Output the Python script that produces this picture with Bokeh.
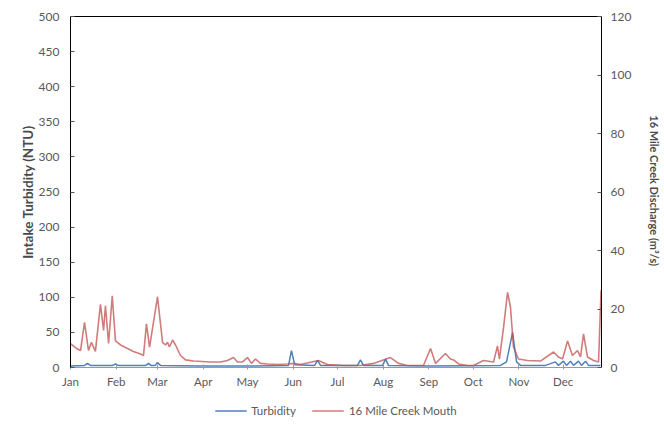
from bokeh.plotting import figure
from bokeh.layouts import column
from bokeh.models import Range1d, LinearAxis, FixedTicker, Legend, LegendItem
from bokeh.embed import file_html
from bokeh.resources import INLINE

months = ["Jan", "Feb", "Mar", "Apr", "May", "Jun", "Jul", "Aug", "Sep", "Oct", "Nov", "Dec"]
month_start_days = [0, 31, 59, 90, 120, 151, 181, 212, 243, 273, 304, 334]

turb_ticks = [0, 50, 100, 150, 200, 250, 300, 350, 400, 450, 500]
flow_ticks = [0, 20, 40, 60, 80, 100, 120]

# Intake turbidity (NTU), day of year
turb_day = [0, 9.5, 11.5, 13.5, 20.3, 28.5, 30.5, 32.5, 47.5, 51.0, 52.9, 54.5, 57.5,
            59.0, 61.0, 88.1, 122.0, 147.8, 149.8, 152.0, 165.5, 167.5, 169.5, 194.6,
            196.6, 198.6, 211.6, 213.6, 215.6, 244.1, 291.5, 295.6, 299.7, 302.4,
            305.1, 322.0, 328.8, 330.8, 334.2, 336.3, 339.0, 341.0, 344.4, 346.4,
            349.2, 351.2, 359.3]
turb_ntu = [2, 3, 6, 3, 3, 3, 5, 3, 3, 3, 6, 3, 3,
            7, 3, 2, 2, 3, 24, 4, 3, 10, 3, 3,
            11, 3, 3, 12, 3, 2, 3, 8, 50, 8,
            3, 3, 8, 3, 9, 3, 9, 3, 9, 3,
            9, 3, 3]

# 16 Mile Creek Mouth discharge (m3/s), day of year
flow_day = [0, 4.1, 6.8, 9.5, 12.2, 14.2, 16.9, 20.3, 22.4, 23.7, 25.8, 28.3, 30.5,
            33.9, 38.6, 42.7, 47.5, 49.5, 51.5, 53.6, 59.0, 62.4, 64.4, 65.8, 67.1,
            69.2, 71.2, 74.6, 78.0, 83.4, 94.9, 101.7, 106.4, 110.5, 113.2, 116.6,
            120.0, 122.7, 125.4, 128.8, 133.6, 140.3, 147.1, 151.2, 155.9, 168.1,
            174.2, 185.1, 196.6, 205.4, 216.9, 222.4, 228.5, 239.3, 244.1, 247.5,
            254.2, 257.6, 259.7, 263.1, 269.2, 273.2, 280.0, 286.8, 289.5, 290.8,
            293.6, 296.3, 298.3, 300.3, 303.7, 309.8, 318.6, 327.5, 330.8, 333.6,
            337.0, 340.3, 343.7, 345.8, 347.8, 350.5, 354.6, 358.0, 359.7]
flow_m3s = [8.2, 6.5, 5.8, 15.4, 5.8, 8.6, 5.5, 21.6, 12.7, 21.1, 8.2, 24.5, 9.1,
            7.7, 6.5, 5.5, 4.6, 4.1, 14.9, 7.0, 24.2, 8.6, 7.7, 8.6, 7.0,
            9.4, 7.7, 4.1, 2.6, 2.2, 1.9, 1.9, 2.4, 3.4, 1.9, 1.9,
            3.4, 1.4, 2.9, 1.4, 1.2, 1.0, 1.2, 1.4, 1.0, 2.4,
            1.0, 0.7, 0.7, 1.4, 3.4, 1.4, 0.7, 0.7, 6.5, 1.4,
            4.8, 2.9, 2.6, 1.2, 0.7, 0.7, 2.4, 1.9, 7.4, 2.9,
            13.7, 25.7, 20.6, 7.0, 2.9, 2.4, 2.2, 5.3, 3.6, 2.9,
            9.1, 4.1, 5.8, 3.6, 11.5, 3.6, 2.4, 1.9, 26.4]

FONT = "Lato"
GRAY = "#595959"
BLUE = "#4f81bd"
RED = "#c0504d"

p = figure(width=664, height=395, output_backend="svg", toolbar_location=None,
           x_range=Range1d(0, 360), y_range=Range1d(0, 500),
           min_border_left=70, min_border_right=63, min_border_top=16, min_border_bottom=28,
           outline_line_color=None)
p.extra_y_ranges = {"q": Range1d(0, 120)}
p.xgrid.visible = False
p.ygrid.visible = False

p.line(turb_day, turb_ntu, color=BLUE, line_width=1.5)
p.line(flow_day, flow_m3s, y_range_name="q", color=RED, line_width=1.6, line_alpha=0.75)

# bottom axis
xa = p.xaxis[0]
xa.ticker = FixedTicker(ticks=month_start_days)
xa.major_label_overrides = {d: m for d, m in zip(month_start_days, months)}
xa.minor_tick_line_color = None
xa.major_tick_in = 3
xa.major_tick_out = 2
xa.axis_line_color = "#9a9a9a"
xa.major_tick_line_color = "#9a9a9a"
xa.major_label_text_font = FONT
xa.major_label_text_font_size = "11.5px"
xa.major_label_text_color = GRAY
xa.major_label_standoff = 5

# left axis
ya = p.yaxis[0]
ya.ticker = FixedTicker(ticks=turb_ticks)
ya.minor_tick_line_color = None
ya.major_tick_in = 4
ya.major_tick_out = 0
ya.axis_line_color = "black"
ya.major_tick_line_color = "#555555"
ya.major_label_text_font = FONT
ya.major_label_text_font_size = "12px"
ya.major_label_text_color = GRAY
ya.major_label_standoff = 11
ya.axis_label = "Intake Turbidity (NTU)"
ya.axis_label_text_font = FONT
ya.axis_label_text_font_size = "13.5px"
ya.axis_label_text_font_style = "bold"
ya.axis_label_text_color = "#4a4a4a"
ya.axis_label_standoff = 0

# right axis
ra = LinearAxis(y_range_name="q", ticker=FixedTicker(ticks=flow_ticks))
ra.minor_tick_line_color = None
ra.major_tick_in = 4
ra.major_tick_out = 0
ra.axis_line_color = "black"
ra.major_tick_line_color = "#555555"
ra.major_label_text_font = FONT
ra.major_label_text_font_size = "12px"
ra.major_label_text_color = GRAY
ra.major_label_standoff = 9
ra.axis_label = "16 Mile Creek Discharge  (m³/s)"
ra.axis_label_text_font = FONT
ra.axis_label_text_font_size = "11px"
ra.axis_label_text_font_style = "bold"
ra.axis_label_text_color = "#4a4a4a"
ra.axis_label_standoff = 14
p.add_layout(ra, "right")

# top border line
ta = LinearAxis(ticker=FixedTicker(ticks=[]))
ta.axis_line_color = "black"
ta.minor_tick_line_color = None
ta.major_tick_line_color = None
ta.major_label_text_font_size = "0px"
ta.major_label_standoff = 0
p.add_layout(ta, "above")

# legend strip below the chart (same series; its view range lies outside the data)
lg = figure(width=664, height=30, output_backend="svg", toolbar_location=None,
            x_range=Range1d(1000, 1001), y_range=Range1d(1000, 1001),
            min_border=0, outline_line_color=None)
lg.axis.visible = False
lg.grid.visible = False
lt = lg.line(turb_day, turb_ntu, color=BLUE, line_width=1.5)
lq = lg.line(flow_day, flow_m3s, color=RED, line_width=1.6, line_alpha=0.75)
legend = Legend(items=[LegendItem(label="Turbidity", renderers=[lt]),
                       LegendItem(label="16 Mile Creek Mouth", renderers=[lq])],
                orientation="horizontal", location="center",
                border_line_color=None, background_fill_alpha=0,
                label_text_font=FONT, label_text_font_size="11.5px", label_text_color=GRAY,
                glyph_width=32, glyph_height=12, label_height=12, label_standoff=5,
                spacing=16, padding=0, margin=0)
lg.add_layout(legend, "center")

open("out.html", "w").write(file_html(column(p, lg), INLINE))
